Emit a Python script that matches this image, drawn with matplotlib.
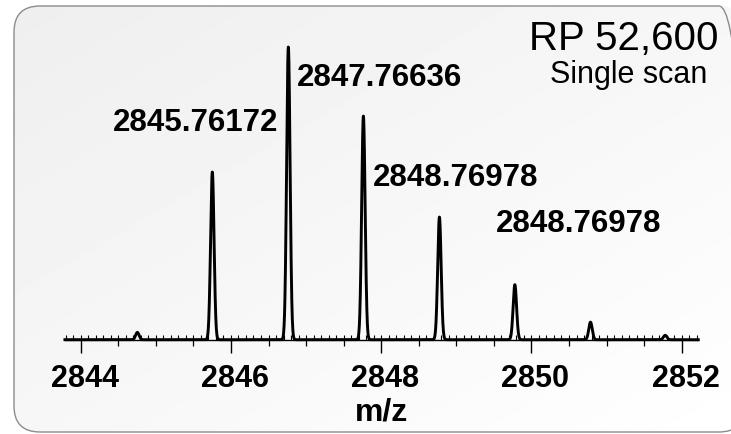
import numpy as np
import matplotlib
matplotlib.use("Agg")
import matplotlib.pyplot as plt
from matplotlib.patches import FancyBboxPatch
from matplotlib.ticker import MultipleLocator
import matplotlib.transforms as mtransforms

# Data
peak_mz = [2844.754, 2845.752, 2846.764, 2847.763, 2848.775, 2849.779, 2850.786, 2851.780]
peak_height = [2.5, 57.3, 100.0, 76.4, 41.9, 18.8, 6.0, 1.5]
resolving_power = 52600
label_texts = ["2845.76172", "2847.76636", "2848.76978", "2848.76978"]
tick_values = [2844, 2846, 2848, 2850, 2852]

plt.rcParams["font.family"] = ["Liberation Sans", "DejaVu Sans"]

W, H = 731, 435
fig = plt.figure(figsize=(W / 100, H / 100), dpi=100)
fig.patch.set_facecolor("white")

# Rounded panel with a soft diagonal gradient
bg = fig.add_axes([0, 0, 1, 1])
bg.set_xlim(0, W)
bg.set_ylim(0, H)
bg.axis("off")
panel = FancyBboxPatch((14, 2), 731, 426, boxstyle="round,pad=0,rounding_size=26",
                       facecolor="none", edgecolor="#8c8c8c", linewidth=1.0, zorder=3)
bg.add_patch(panel)
yy, xx = np.mgrid[0:1:200j, 0:1:300j]
shade = 0.935 + 0.065 * (xx + yy) / 2
img = bg.imshow(shade, cmap="gray", vmin=0, vmax=1, extent=(14, 745, 2, 428),
                aspect="auto", zorder=1)
img.set_clip_path(panel)

# Spectrum, Gaussian profile with FWHM = m / RP
ax = fig.add_axes([65 / W, 94.3 / H, 633 / W, 292.7 / H])
ax.set_facecolor("none")
mz = np.linspace(2843.79, 2852.22, 6000)
intensity = np.zeros_like(mz)
for c, h in zip(peak_mz, peak_height):
    sigma = c / resolving_power / 2.355
    intensity += h * np.exp(-0.5 * ((mz - c) / sigma) ** 2)
ax.plot(mz, intensity, color="black", lw=2.1, clip_on=False, solid_joinstyle="round")

ax.set_xlim(2843.791, 2852.217)
ax.set_ylim(0, 100)
for s in ["top", "left", "right"]:
    ax.spines[s].set_visible(False)
ax.spines["bottom"].set_linewidth(1.0)
ax.set_yticks([])
ax.set_xticks(tick_values)
ax.xaxis.set_minor_locator(MultipleLocator(0.5))
ax.tick_params(axis="x", which="major", direction="out", length=9, width=1.0,
               pad=8, labelsize=22)
ax.tick_params(axis="x", which="minor", direction="out", length=4.3, width=0.9)
for lab in ax.get_xticklabels():
    lab.set_fontweight("bold")
    lab.set_transform(lab.get_transform() + mtransforms.ScaledTranslation(0.04, 0, fig.dpi_scale_trans))

# small upward ticks every 0.1
sec = ax.secondary_xaxis("bottom")
sec.set_xticks(np.arange(2843.8, 2852.25, 0.1))
sec.tick_params(axis="x", direction="in", length=3.6, width=0.8, labelbottom=False)
sec.spines["bottom"].set_visible(False)

ax.set_xlabel("m/z", fontsize=23, fontweight="bold", labelpad=2)

# Peak labels
ax.text(2846.626, 71.6, label_texts[0], ha="right", va="baseline", fontsize=22.5, fontweight="bold")
ax.text(2846.879, 87.0, label_texts[1], ha="left", va="baseline", fontsize=22.5, fontweight="bold")
ax.text(2847.887, 52.9, label_texts[2], ha="left", va="baseline", fontsize=22.5, fontweight="bold")
ax.text(2849.528, 37.1, label_texts[3], ha="left", va="baseline", fontsize=22.5, fontweight="bold")

# Resolution note
px = fig.dpi_scale_trans
fig.text(6.24, (H - 50) / 100, "RP 52,600", ha="center", va="baseline", fontsize=29, transform=px)
fig.text(6.285, (H - 83) / 100, "Single scan", ha="center", va="baseline", fontsize=22, transform=px)

fig.savefig("out.png", dpi=100)
